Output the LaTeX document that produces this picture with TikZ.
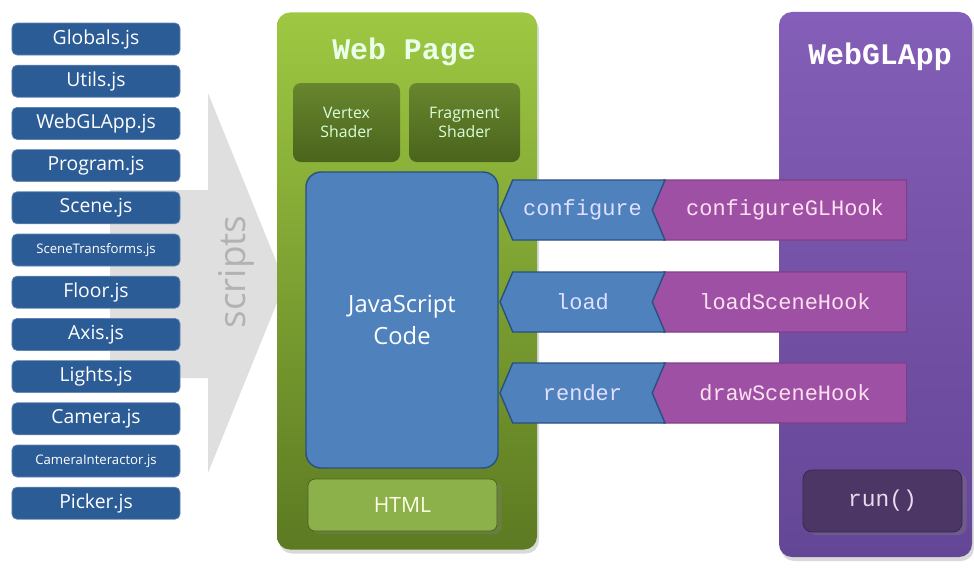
\documentclass[tikz,border=0pt]{standalone}
\usepackage{fontspec}
\setmainfont{Open Sans}
\setmonofont{Liberation Mono}
\usepackage{tikz}
\usetikzlibrary{shapes.symbols, positioning, shadows}
\definecolor{filecolor}{RGB}{44,92,150}
\definecolor{jscolor}{RGB}{79,129,189}
\definecolor{jsborder}{RGB}{40,80,128}
\definecolor{hookcolor}{RGB}{158,80,165}
\definecolor{pagetop}{RGB}{158,200,66}
\definecolor{pagebottom}{RGB}{92,122,34}
\definecolor{shadertop}{RGB}{104,134,46}
\definecolor{shaderbottom}{RGB}{74,100,28}
\definecolor{htmlcolor}{RGB}{140,177,74}
\definecolor{apptop}{RGB}{132,94,184}
\definecolor{appbottom}{RGB}{100,70,150}
\definecolor{runcolor}{RGB}{76,54,102}

\begin{document}
\begin{tikzpicture}[
    x=0.2mm, y=-0.2mm,
    file/.style={draw=filecolor!75!white, fill=filecolor, rounded corners=1mm, minimum width=33.6mm, minimum height=6.4mm, inner sep=0pt, text=white},
    container/.style={rounded corners=2.6mm, drop shadow={opacity=0.3, shadow xshift=0.4mm, shadow yshift=-0.8mm}},
    shader/.style={rounded corners=1.6mm, top color=shadertop, bottom color=shaderbottom, align=center, text=white!85!green, font=\fontsize{9}{11}\selectfont},
    chev/.style={signal, signal to=west, signal from=east, signal pointer angle=134, fill=jscolor, draw=jsborder, thick, minimum width=33mm, minimum height=12mm, inner sep=0pt, text=white!88!blue, font=\ttfamily\fontsize{12.5}{14}\selectfont},
    hook/.style={signal, signal to=west, signal from=nowhere, signal pointer angle=134, fill=hookcolor, draw=hookcolor!80!black, line width=0.6pt, minimum width=51.2mm, minimum height=12mm, inner sep=0pt, text=white!88!magenta, font=\ttfamily\fontsize{12.5}{14}\selectfont}
]
    \useasboundingbox (0,0) rectangle (974,585);

    % Scripts arrow
    \path[fill=gray!25] (110,190) -- (208,190) -- (208,93) -- (285,283) -- (208,473) -- (208,378) -- (110,378) -- cycle;
    \node[rotate=90, text=gray!60, font=\fontsize{21}{24}\selectfont] (scripts) at (236,272) {scripts};

    % Script files
    \foreach \name/\fs [count=\i from 0] in {Globals.js/11, Utils.js/11, WebGLApp.js/11, Program.js/11, Scene.js/11, SceneTransforms.js/7.5, Floor.js/11, Axis.js/11, Lights.js/11, Camera.js/11, CameraInteractor.js/7.5, Picker.js/11}
        \node[file, font=\fontsize{\fs}{12}\selectfont] (file\i) at (96,{39+42.2*\i}) {\name};

    % Web page
    \node[container, top color=pagetop, bottom color=pagebottom, minimum width=52mm, minimum height=107.4mm] (page) at (407,281) {};
    \node[text=white!92!green, font=\ttfamily\bfseries\fontsize{17}{20}\selectfont] (pagetitle) at (404,52) {Web Page};
    \node[shader, minimum width=21.4mm, minimum height=15.8mm] (vertex) at (346.5,122.5) {Vertex\\Shader};
    \node[shader, minimum width=22.2mm, minimum height=15.8mm] (fragment) at (464.5,122.5) {Fragment\\Shader};
    \node[rounded corners=3mm, fill=jscolor, draw=jsborder, thick, minimum width=38.4mm, minimum height=59.2mm, align=center, text=white, font=\fontsize{13.5}{18}\selectfont] (js) at (402,320) {JavaScript\\Code};
    \node[rounded corners=1.4mm, fill=htmlcolor, draw=pagebottom!80!black, drop shadow={opacity=0.3, shadow yshift=-0.6mm}, minimum width=37.8mm, minimum height=10.4mm, text=white!90!yellow, font=\fontsize{12}{14}\selectfont] (html) at (402.5,505) {HTML};

    % WebGLApp
    \node[container, top color=apptop, bottom color=appbottom, minimum width=38.6mm, minimum height=109mm] (app) at (875.5,284.5) {};
    \node[text=white, font=\ttfamily\bfseries\fontsize{17}{20}\selectfont] (apptitle) at (880,57) {WebGLApp};
    \node[rounded corners=1.8mm, fill=runcolor, draw=runcolor!70!black, drop shadow={opacity=0.35, shadow yshift=-0.6mm}, minimum width=31.8mm, minimum height=12.4mm, text=white!85!violet, font=\ttfamily\fontsize{13}{14}\selectfont] (run) at (882.5,501) {run()};

    % Hooks
    \node[hook] (confighook) at (785,210) {configureGLHook};
    \node[hook] (loadhook) at (785,302) {loadSceneHook};
    \node[hook] (drawhook) at (785,393) {drawSceneHook};
    \node[chev] (configure) at (582.5,210) {configure};
    \node[chev] (load) at (582.5,302) {load};
    \node[chev] (render) at (582.5,393) {render};
\end{tikzpicture}
\end{document}
